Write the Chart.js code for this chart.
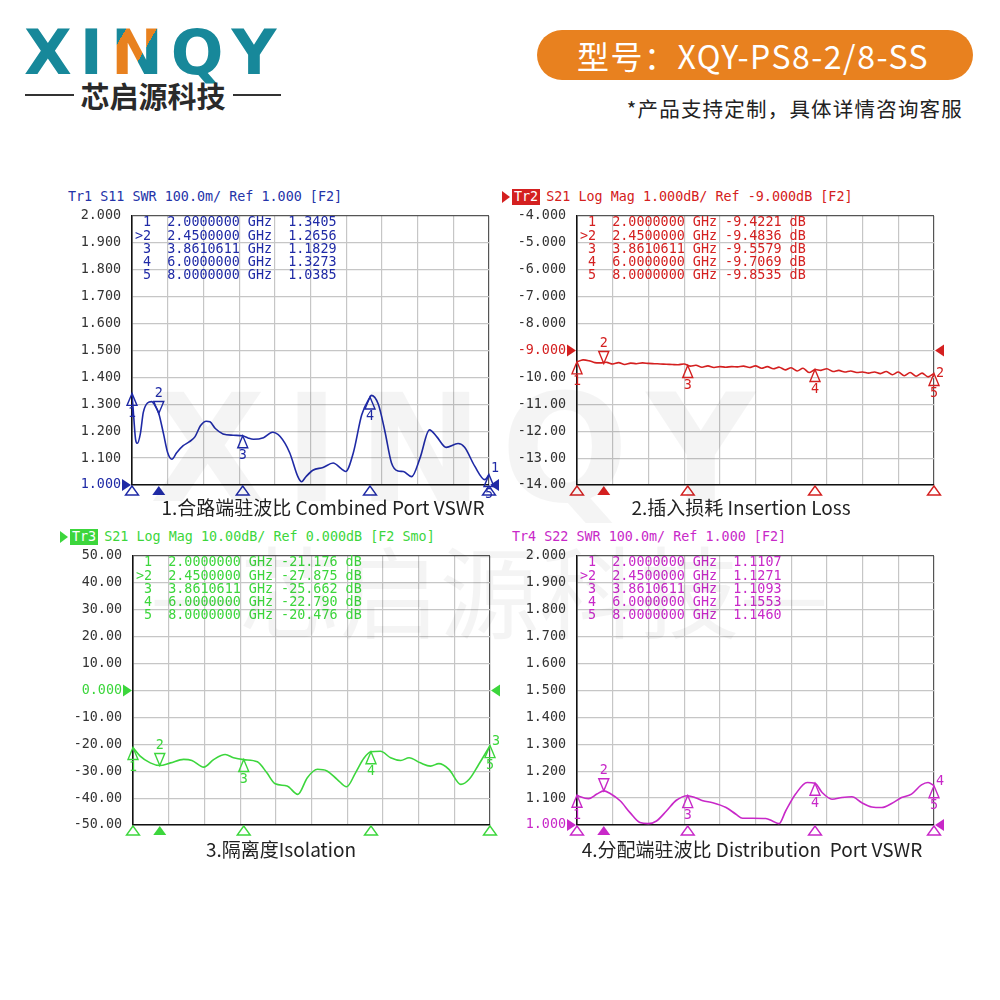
<!DOCTYPE html>
<html>
<head>
<meta charset="utf-8">
<script src="https://cdn.jsdelivr.net/npm/chart.js@4.4.1/dist/chart.umd.min.js"></script>
<style>
  body { margin: 0; background: #fff; }
  #page { position: relative; width: 1000px; height: 1000px; overflow: hidden; font-family: "Noto Sans CJK SC", "Noto Sans", sans-serif; }
  .abs { position: absolute; }
  .logo { left: 24px; top: 18px; font: bold 62px "DejaVu Sans"; color: #17889a; letter-spacing: 8px; line-height: 70px; }
  .logo .n { background: linear-gradient(120deg, #17889a 0 22%, #e8811f 22% 52%, #17889a 52%); -webkit-background-clip: text; background-clip: text; color: transparent; }
  .sub { left: 25px; top: 78px; width: 256px; height: 34px; display: flex; align-items: center; gap: 7px; color: #2a2a2a; font-size: 29px; font-weight: bold; }
  .sub .ln { flex: 1; height: 2px; background: #333; }
  .pill { left: 537px; top: 30px; width: 436px; height: 50px; border-radius: 25px; background: #e8811f; color: #fff; font-size: 32px; letter-spacing: 1.5px; line-height: 50px; padding-left: 40px; box-sizing: border-box; }
  .note { right: 37px; top: 93px; font-size: 20.5px; color: #222; letter-spacing: 1.2px; }
  .ttl { font: 13.4px "DejaVu Sans Mono"; line-height: 16px; white-space: pre; display: flex; align-items: center; }
  .box { color: #fff; padding: 0 2px; margin-right: 6px; }
  .arr { width: 0; height: 0; border-top: 6px solid transparent; border-bottom: 6px solid transparent; border-left: 8px solid; margin-right: 2px; }
  .cap { font-size: 19px; color: #222; transform: translateX(-50%); white-space: pre; line-height: 22px; }
  canvas { position: absolute; }
  .wm { pointer-events: none; color: rgba(0, 0, 0, 0.045); font-weight: bold; white-space: pre; }
</style>
</head>
<body>
<div id="page">
  <div class="abs logo">XI<span class="n">N</span>QY</div>
  <div class="abs sub"><span class="ln"></span><span>芯启源科技</span><span class="ln"></span></div>
  <div class="abs pill">型号：XQY-PS8-2/8-SS</div>
  <div class="abs note">*产品支持定制，具体详情咨询客服</div>

  <div class="abs ttl" style="left:68px;top:189px;color:#2433a8;">Tr1 S11 SWR 100.0m/ Ref 1.000 [F2]</div>
  <div class="abs ttl" style="left:502px;top:189px;color:#d42020;"><span class="arr" style="border-left-color:#d42020"></span><span class="box" style="background:#d42020">Tr2</span>S21 Log Mag 1.000dB/ Ref -9.000dB [F2]</div>
  <div class="abs ttl" style="left:60px;top:529px;color:#3cd63c;"><span class="arr" style="border-left-color:#3cd63c"></span><span class="box" style="background:#3cd63c">Tr3</span>S21 Log Mag 10.00dB/ Ref 0.000dB [F2 Smo]</div>
  <div class="abs ttl" style="left:512px;top:529px;color:#c828c8;">Tr4 S22 SWR 100.0m/ Ref 1.000 [F2]</div>

  <canvas id="c1" width="460" height="300" style="left:50px;top:205px;"></canvas>
  <canvas id="c2" width="460" height="300" style="left:495px;top:205px;"></canvas>
  <canvas id="c3" width="460" height="300" style="left:51px;top:545px;"></canvas>
  <canvas id="c4" width="460" height="300" style="left:495px;top:545px;"></canvas>

  <div class="abs cap" style="left:323px;top:496px;">1.合路端驻波比 Combined Port VSWR</div>
  <div class="abs cap" style="left:741px;top:496px;">2.插入损耗 Insertion Loss</div>
  <div class="abs cap" style="left:281px;top:838px;">3.隔离度Isolation</div>
  <div class="abs cap" style="left:752px;top:838px;">4.分配端驻波比 Distribution  Port VSWR</div>

  <div class="abs wm" style="left:150px;top:362px;font-family:'DejaVu Sans';font-size:150px;letter-spacing:18px;">XINQY</div>
  <div class="abs wm" style="left:150px;top:515px;font-size:100px;font-weight:normal;">—芯启源科技—</div>
</div>

<script>
// marker frequencies shared by all four traces (GHz)
const markerFreqs = [2.0, 2.45, 3.8610611, 6.0, 8.0];
const markerFreqText = ["2.0000000", "2.4500000", "3.8610611", "6.0000000", "8.0000000"];

// Tr1 S11 SWR
const s11Freq = [2.00, 2.03, 2.06, 2.09, 2.14, 2.19, 2.26, 2.33, 2.40, 2.45, 2.53, 2.60, 2.67, 2.75, 2.86, 2.96, 3.06, 3.15, 3.25, 3.31,
  3.40, 3.53, 3.70, 3.86, 3.95, 4.04, 4.21, 4.36, 4.49, 4.65, 4.79, 4.85, 4.92, 5.04, 5.21, 5.38, 5.52, 5.59, 5.72, 5.86,
  6.00, 6.02, 6.14, 6.25, 6.36, 6.47, 6.56, 6.70, 6.84, 7.00, 7.12, 7.28, 7.48, 7.59, 7.76, 7.93, 8.00];
const s11Swr = [1.340, 1.250, 1.170, 1.155, 1.190, 1.270, 1.305, 1.310, 1.290, 1.266, 1.190, 1.120, 1.096, 1.120, 1.146, 1.160, 1.180, 1.220, 1.237, 1.235,
  1.210, 1.190, 1.185, 1.183, 1.175, 1.170, 1.176, 1.196, 1.180, 1.120, 1.030, 1.012, 1.030, 1.055, 1.065, 1.082, 1.060, 1.050, 1.120, 1.260,
  1.327, 1.333, 1.300, 1.200, 1.083, 1.052, 1.050, 1.031, 1.100, 1.205, 1.180, 1.140, 1.154, 1.140, 1.070, 1.020, 1.039];
const s11Markers = [1.3405, 1.2656, 1.1829, 1.3273, 1.0385];

// Tr2 S21 insertion loss (dB)
const s21Freq = [2.0, 2.1, 2.2, 2.3, 2.4, 2.5, 2.6, 2.7, 2.8, 2.9, 3.0, 3.1, 3.2, 3.3, 3.4, 3.5, 3.6, 3.7, 3.8, 3.9,
  4.0, 4.1, 4.2, 4.3, 4.4, 4.5, 4.6, 4.7, 4.8, 4.9, 5.0, 5.1, 5.2, 5.3, 5.4, 5.5, 5.6, 5.7, 5.8, 5.9,
  6.0, 6.1, 6.2, 6.3, 6.4, 6.5, 6.6, 6.7, 6.8, 6.9, 7.0, 7.1, 7.2, 7.3, 7.4, 7.5, 7.6, 7.7, 7.8, 7.9, 8.0];
const s21Mag = [-9.42, -9.35, -9.38, -9.45, -9.46, -9.44, -9.50, -9.45, -9.52, -9.47, -9.49, -9.46, -9.48, -9.49, -9.50, -9.51, -9.52, -9.53, -9.50, -9.58,
  -9.55, -9.62, -9.57, -9.63, -9.60, -9.62, -9.60, -9.61, -9.58, -9.63, -9.57, -9.66, -9.60, -9.68, -9.62, -9.72, -9.64, -9.76, -9.66, -9.82,
  -9.71, -9.74, -9.68, -9.78, -9.74, -9.80, -9.76, -9.82, -9.80, -9.84, -9.80, -9.86, -9.78, -9.90, -9.80, -9.94, -9.82, -9.96, -9.84, -9.98, -9.85];
const s21Markers = [-9.4221, -9.4836, -9.5579, -9.7069, -9.8535];

// Tr3 isolation (dB)
const isoFreq = [2.00, 2.12, 2.29, 2.45, 2.63, 2.85, 2.99, 3.19, 3.36, 3.55, 3.69, 3.86, 4.09, 4.25, 4.39, 4.59, 4.77, 4.93, 5.10, 5.26,
  5.43, 5.59, 5.74, 5.88, 6.00, 6.16, 6.33, 6.50, 6.64, 6.83, 7.00, 7.14, 7.31, 7.51, 7.65, 7.81, 8.00];
const isoMag = [-21.2, -24.4, -26.9, -27.9, -26.9, -25.6, -26.0, -28.5, -25.6, -23.8, -25.0, -25.7, -26.5, -30.6, -34.7, -35.5, -38.6, -32.4, -29.3, -29.9,
  -33.0, -35.8, -30.6, -25.2, -22.8, -22.6, -25.0, -26.0, -25.0, -26.9, -28.1, -27.2, -29.3, -34.9, -33.0, -27.5, -20.5];
const isoMarkers = [-21.176, -27.875, -25.662, -22.790, -20.476];

// Tr4 S22 SWR
const s22Freq = [2.000, 2.056, 2.195, 2.334, 2.450, 2.557, 2.724, 2.891, 3.058, 3.197, 3.336, 3.503, 3.670, 3.860, 4.004, 4.115, 4.282, 4.505, 4.672, 4.783,
  4.950, 5.173, 5.284, 5.395, 5.507, 5.674, 5.868, 6.000, 6.119, 6.286, 6.453, 6.620, 6.787, 6.954, 7.121, 7.288, 7.455, 7.622, 7.789, 7.900, 8.000];
const s22Swr = [1.111, 1.105, 1.098, 1.115, 1.127, 1.117, 1.090, 1.046, 1.009, 1.005, 1.015, 1.052, 1.092, 1.109, 1.100, 1.090, 1.083, 1.065, 1.040, 1.025,
  1.025, 1.024, 1.015, 1.005, 1.052, 1.115, 1.158, 1.155, 1.121, 1.096, 1.102, 1.105, 1.083, 1.067, 1.065, 1.080, 1.102, 1.115, 1.149, 1.158, 1.146];
const s22Markers = [1.1107, 1.1271, 1.1093, 1.1553, 1.1460];

// y tick labels, top to bottom as the analyser prints them
const swrTickLabels = ["2.000", "1.900", "1.800", "1.700", "1.600", "1.500", "1.400", "1.300", "1.200", "1.100", "1.000"];
const lossTickLabels = ["-4.000", "-5.000", "-6.000", "-7.000", "-8.000", "-9.000", "-10.00", "-11.00", "-12.00", "-13.00", "-14.00"];
const isoTickLabels = ["50.00", "40.00", "30.00", "20.00", "10.00", "0.000", "-10.00", "-20.00", "-30.00", "-40.00", "-50.00"];

const MONO = '"DejaVu Sans Mono", monospace';

function triangle(ctx, cx, tipY, dir, w, h, filled) {
  // dir = 1 -> tip on top, base below; dir = -1 -> tip below
  ctx.beginPath();
  ctx.moveTo(cx, tipY);
  ctx.lineTo(cx - w / 2, tipY + dir * h);
  ctx.lineTo(cx + w / 2, tipY + dir * h);
  ctx.closePath();
  if (filled) ctx.fill(); else ctx.stroke();
}

const vnaDecor = {
  id: "vnaDecor",
  afterDatasetsDraw(chart, args, opts) {
    const { ctx, chartArea: a, scales: { x, y } } = chart;
    ctx.save();
    ctx.fillStyle = opts.color;
    ctx.strokeStyle = opts.color;
    ctx.lineWidth = 1.4;
    ctx.font = "13.4px " + MONO;
    ctx.textBaseline = "middle";

    // marker readout table
    ctx.textAlign = "left";
    opts.markerVals.forEach((v, i) => {
      const num = (i === 1 ? ">" : " ") + (i + 1);
      let row;
      if (opts.unit === "dB") row = num + "  " + markerFreqText[i] + " GHz " + v.toFixed(opts.digits) + " dB";
      else row = num + "  " + markerFreqText[i] + " GHz  " + v.toFixed(opts.digits);
      ctx.fillText(row, a.left + 3, a.top + 7 + i * 13.1);
    });

    // markers on the trace and along the bottom edge
    ctx.textAlign = "center";
    markerFreqs.forEach((f, i) => {
      const px = x.getPixelForValue(f);
      const py = y.getPixelForValue(opts.markerVals[i]);
      if (i === 1) {
        triangle(ctx, px, py, -1, 10, 12, false);
        ctx.fillText(String(i + 1), px, py - 20);
      } else {
        triangle(ctx, px, py, 1, 10, 12, false);
        ctx.fillText(String(i + 1), px, py + 20);
      }
      triangle(ctx, px, a.bottom + 1, 1, 13, 9, i === 1);
    });

    // reference level arrows
    const ry = y.getPixelForValue(opts.ref);
    ctx.beginPath();
    ctx.moveTo(a.left - 10, ry - 6); ctx.lineTo(a.left - 10, ry + 6); ctx.lineTo(a.left - 1, ry);
    ctx.closePath(); ctx.fill();
    ctx.beginPath();
    ctx.moveTo(a.right + 10, ry - 6); ctx.lineTo(a.right + 10, ry + 6); ctx.lineTo(a.right + 1, ry);
    ctx.closePath(); ctx.fill();

    // trace number at the end of the sweep
    const data = chart.data.datasets[0].data;
    const last = data[data.length - 1];
    ctx.textAlign = "left";
    ctx.fillText(opts.traceNo, a.right + 2, y.getPixelForValue(last.y) + opts.endDy);
    ctx.restore();
  }
};

function noPad(s) {
  s.paddingTop = 0; s.paddingBottom = 0; s.paddingLeft = 0; s.paddingRight = 0;
}

function makeChart(id, cfg) {
  const gridColor = (c) => (c.index === 10 ? "#555" : "#c6c6c6");
  return new Chart(document.getElementById(id), {
    type: "line",
    data: {
      datasets: [{
        data: cfg.freq.map((f, i) => ({ x: f, y: cfg.vals[i] })),
        borderColor: cfg.color,
        borderWidth: 1.6,
        pointRadius: 0,
        tension: cfg.tension,
        cubicInterpolationMode: cfg.mono ? "monotone" : "default"
      }]
    },
    options: {
      responsive: false,
      animation: false,
      layout: { padding: { left: 0, top: 11, right: 21, bottom: 20 } },
      plugins: {
        legend: { display: false },
        tooltip: { enabled: false },
        vnaDecor: {
          color: cfg.color, markerVals: cfg.markers, unit: cfg.unit, digits: cfg.digits,
          ref: cfg.ref, traceNo: cfg.traceNo, endDy: cfg.endDy
        }
      },
      scales: {
        x: {
          type: "linear", min: 2, max: 8,
          ticks: { display: false, count: 11 },
          grid: { drawTicks: false, color: gridColor, lineWidth: 1.2 },
          border: { color: "#111", width: 1.6 },
          afterFit: (s) => { s.height = 0; noPad(s); }
        },
        y: {
          min: cfg.min, max: cfg.max,
          ticks: {
            count: 11, autoSkip: false, padding: 11,
            font: { family: MONO, size: 13.4 },
            color: (c) => (Math.abs(c.tick.value - cfg.ref) < 1e-6 ? cfg.color : "#333"),
            callback: (v, i) => cfg.tickLabels[cfg.tickLabels.length - 1 - i]
          },
          grid: { drawTicks: false, color: gridColor, lineWidth: 1.2 },
          border: { color: "#111", width: 1.6 },
          afterFit: (s) => { s.width = 82; noPad(s); }
        }
      }
    },
    plugins: [vnaDecor]
  });
}

makeChart("c1", { freq: s11Freq, vals: s11Swr, markers: s11Markers, color: "#1f2aa6", min: 1, max: 2, ref: 1,
  tickLabels: swrTickLabels, unit: "", digits: 4, traceNo: "1", endDy: -6, tension: 0.4, mono: true });
makeChart("c2", { freq: s21Freq, vals: s21Mag, markers: s21Markers, color: "#d42020", min: -14, max: -4, ref: -9,
  tickLabels: lossTickLabels, unit: "dB", digits: 4, traceNo: "2", endDy: 0, tension: 0.3, mono: false });
makeChart("c3", { freq: isoFreq, vals: isoMag, markers: isoMarkers, color: "#3cd63c", min: -50, max: 50, ref: 0,
  tickLabels: isoTickLabels, unit: "dB", digits: 3, traceNo: "3", endDy: -4, tension: 0.4, mono: true });
makeChart("c4", { freq: s22Freq, vals: s22Swr, markers: s22Markers, color: "#c828c8", min: 1, max: 2, ref: 1,
  tickLabels: swrTickLabels, unit: "", digits: 4, traceNo: "4", endDy: -4, tension: 0.4, mono: true });
</script>
</body>
</html>
